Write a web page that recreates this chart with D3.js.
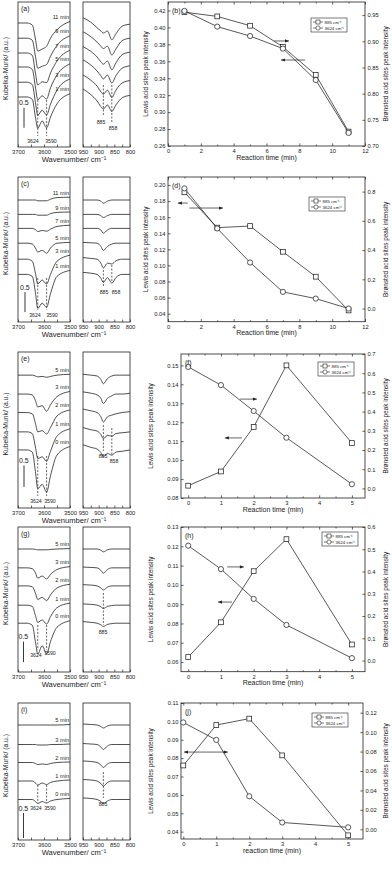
<!DOCTYPE html>
<html>
<head>
<meta charset="utf-8">
<script src="https://cdn.jsdelivr.net/npm/d3@7"></script>
<style>
  body { margin: 0; background: #fff; }
  svg { display: block; }
  text { font-family: "Liberation Sans", Arial, sans-serif; fill: #222; }
</style>
</head>
<body>
<svg id="fig" width="392" height="869"></svg>
<script>
// ---------- spectra: shared wavenumber grids ----------
const ohWn  = [3700, 3665, 3645, 3633, 3624, 3607, 3590, 3575, 3550, 3500];
const lowWn = [950, 925, 905, 893, 885, 872, 858, 845, 825, 800];

// offsets are K-M units above box bottom, curves are relative to offset
const aTimes  = ["11 min", "9 min", "7 min", "5 min", "3 min", "1 min"];
const aOffset = [3.1, 2.72, 2.35, 2.0, 1.62, 1.25];
const aOH = [
  [0, 0, -0.05, -0.4, -0.7, -0.65, -0.58, -0.38, -0.17, 0.04],
  [0, 0, -0.05, -0.45, -0.75, -0.7, -0.66, -0.45, -0.18, 0.06],
  [0, 0, -0.06, -0.5, -0.8, -0.72, -0.74, -0.5, -0.2, 0.07],
  [0, 0, -0.06, -0.5, -0.82, -0.72, -0.8, -0.52, -0.2, 0.08],
  [0, 0, -0.06, -0.5, -0.83, -0.7, -0.82, -0.55, -0.2, 0.08],
  [0, 0, -0.06, -0.5, -0.78, -0.6, -0.77, -0.5, -0.17, 0.08]
];
const aLow = [
  [0.13, 0.02, -0.12, -0.2, -0.25, -0.2, -0.42, -0.27, -0.08, -0.03],
  [0.16, 0.04, -0.1, -0.2, -0.26, -0.2, -0.42, -0.27, -0.06, 0.0],
  [0.16, 0.04, -0.1, -0.22, -0.28, -0.2, -0.42, -0.25, -0.04, 0.02],
  [0.18, 0.05, -0.1, -0.22, -0.3, -0.2, -0.4, -0.22, -0.03, 0.03],
  [0.18, 0.05, -0.1, -0.24, -0.3, -0.2, -0.38, -0.2, -0.02, 0.04],
  [0.2, 0.06, -0.1, -0.24, -0.3, -0.2, -0.36, -0.2, -0.02, 0.04]
];

const cTimes  = ["11 min", "9 min", "7 min", "5 min", "3 min", "1 min"];
const cOffset = [3.05, 2.69, 2.34, 1.97, 1.57, 1.19];
const cOH = [
  [0, 0, 0, 0, -0.02, -0.02, -0.02, 0.02, 0.06, 0.07],
  [0, 0, 0, 0, -0.02, -0.02, -0.02, 0.02, 0.05, 0.06],
  [0, 0, 0, -0.03, -0.08, -0.05, -0.07, -0.02, 0.05, 0.08],
  [0, 0, -0.02, -0.12, -0.22, -0.18, -0.25, -0.12, 0.0, 0.02],
  [0, 0, -0.05, -0.35, -0.62, -0.52, -0.62, -0.38, -0.05, 0.1],
  [0, 0, -0.05, -0.45, -0.85, -0.72, -0.82, -0.48, -0.05, 0.1]
];
const cLow = [
  [0, 0, 0, -0.03, -0.08, -0.03, 0, 0, 0, 0],
  [0, 0, 0, -0.03, -0.08, -0.03, 0, 0, 0, 0],
  [0, 0, 0, -0.04, -0.12, -0.04, 0, 0, 0, 0],
  [0.02, 0.01, 0, -0.08, -0.18, -0.08, -0.02, 0, 0, 0],
  [0.04, 0.02, 0, -0.1, -0.22, -0.1, -0.12, -0.04, 0, 0],
  [0.05, 0.03, 0, -0.1, -0.2, -0.08, -0.22, -0.08, 0, 0]
];

const eTimes  = ["5 min", "3 min", "2 min", "1 min", "0 min"];
const eOffset = [3.09, 2.65, 2.22, 1.77, 1.35];
const eOH = [
  [0, 0, 0, -0.02, -0.04, -0.03, -0.05, -0.03, 0, 0.02],
  [0, 0, -0.02, -0.15, -0.3, -0.27, -0.4, -0.25, -0.06, 0.06],
  [0, 0, -0.03, -0.25, -0.45, -0.42, -0.5, -0.35, -0.08, 0.06],
  [0, 0, -0.04, -0.35, -0.62, -0.58, -0.68, -0.45, -0.1, 0.07],
  [0, 0, -0.05, -0.5, -0.9, -0.8, -0.98, -0.6, -0.12, 0.08]
];
const eLow = [
  [0.02, 0, -0.02, -0.1, -0.2, -0.08, -0.02, 0, 0, 0],
  [0.05, 0.02, -0.02, -0.1, -0.22, -0.1, -0.04, 0, 0, 0.02],
  [0.08, 0.04, 0, -0.1, -0.22, -0.1, -0.06, -0.03, 0, 0.02],
  [0.1, 0.05, 0.02, -0.06, -0.16, -0.08, -0.1, -0.04, -0.02, 0],
  [0.12, 0.06, 0.02, -0.06, -0.16, -0.08, -0.12, -0.05, -0.03, 0]
];

const gTimes  = ["5 min", "3 min", "2 min", "1 min", "0 min"];
const gOffset = [3.0, 2.54, 2.1, 1.63, 1.19];
const gOH = [
  [0, 0, 0, -0.01, -0.02, -0.02, -0.02, -0.01, 0, 0.01],
  [0, 0, -0.02, -0.12, -0.25, -0.2, -0.27, -0.16, -0.04, 0.03],
  [0, 0, -0.02, -0.18, -0.33, -0.28, -0.36, -0.22, -0.05, 0.04],
  [0, 0, -0.03, -0.25, -0.42, -0.36, -0.46, -0.28, -0.06, 0.05],
  [0, 0, -0.05, -0.45, -0.75, -0.55, -0.75, -0.45, -0.1, 0.06]
];
const gLow = [
  [0, 0, 0, -0.03, -0.07, -0.02, 0, 0, 0, 0],
  [0.02, 0.01, 0, -0.06, -0.13, -0.04, 0, 0, 0, 0],
  [0.03, 0.02, 0, -0.05, -0.1, -0.03, 0, 0, 0, 0],
  [0.03, 0.02, 0, -0.04, -0.08, -0.03, -0.01, 0, 0, 0],
  [0.04, 0.02, 0, -0.04, -0.08, -0.03, -0.01, 0, 0, 0]
];

const iTimes  = ["5 min", "3 min", "2 min", "1 min", "0 min"];
const iOffset = [2.3, 1.91, 1.55, 1.18, 0.81];
const iOH = [
  [0, 0, 0, 0, 0, 0, 0, 0, 0, 0.01],
  [0, 0, 0, 0, -0.01, -0.01, -0.01, 0, 0, 0.01],
  [0, 0, 0, -0.02, -0.04, -0.03, -0.04, -0.02, 0, 0.01],
  [0, 0, 0, -0.04, -0.08, -0.04, -0.07, -0.03, 0, 0.02],
  [0, 0, 0, -0.04, -0.08, -0.04, -0.07, -0.03, 0, 0.02]
];
const iLow = [
  [0.02, 0.01, 0, -0.03, -0.06, -0.02, 0, 0, 0, 0],
  [0.02, 0.01, 0, -0.05, -0.1, -0.03, 0, 0, 0, 0],
  [0.03, 0.02, 0, -0.05, -0.1, -0.03, 0, 0, 0, 0],
  [0.03, 0.02, 0, -0.05, -0.1, -0.03, 0, 0, 0, 0],
  [0.03, 0.02, 0, -0.04, -0.08, -0.03, 0, 0, 0, 0]
];

const ohTicks  = [3700, 3650, 3600, 3550, 3500];
const ohLabels = [3700, 3600, 3500];
const lowTicks = [950, 925, 900, 875, 850, 825, 800];
const lowLabels = [950, 900, 850, 800];

// ---------- peak intensity vs reaction time ----------
const legendNames = ["885 cm\u207B\u00B9", "3624 cm\u207B\u00B9"];

const timeB  = [1, 3, 5, 7, 9, 11];
const lewisB = [0.418, 0.413, 0.402, 0.377, 0.344, 0.277];
const bronB  = [0.958, 0.928, 0.910, 0.886, 0.826, 0.725];

const timeD  = [1, 3, 5, 7, 9, 11];
const lewisD = [0.191, 0.147, 0.149, 0.117, 0.086, 0.044];
const bronD  = [0.822, 0.548, 0.315, 0.114, 0.068, 0.0];

const timeF  = [0, 1, 2, 3, 5];
const lewisF = [0.0865, 0.094, 0.1175, 0.150, 0.109];
const bronF  = [0.633, 0.538, 0.403, 0.264, 0.022];

const timeH  = [0, 1, 2, 3, 5];
const lewisH = [0.0626, 0.0806, 0.1071, 0.1237, 0.0691];
const bronH  = [0.516, 0.411, 0.277, 0.160, 0.011];

const timeJ  = [0, 1, 2, 3, 5];
const lewisJ = [0.076, 0.098, 0.1015, 0.0815, 0.038];
const bronJ  = [0.110, 0.092, 0.034, 0.007, 0.002];

const ticksLongX  = [0, 2, 4, 6, 8, 10, 12];
const minorLongX  = [1, 3, 5, 7, 9, 11];
const ticksShortX = [0, 1, 2, 3, 4, 5];
const minorShortX = [0.5, 1.5, 2.5, 3.5, 4.5];

const ticksLB = [0.26, 0.28, 0.30, 0.32, 0.34, 0.36, 0.38, 0.40, 0.42];
const ticksRB = [0.70, 0.75, 0.80, 0.85, 0.90, 0.95];
const ticksLD = [0.04, 0.06, 0.08, 0.10, 0.12, 0.14, 0.16, 0.18, 0.20];
const ticksRD = [0.0, 0.2, 0.4, 0.6, 0.8];
const ticksLF = [0.08, 0.09, 0.10, 0.11, 0.12, 0.13, 0.14, 0.15];
const ticksRF = [0.0, 0.1, 0.2, 0.3, 0.4, 0.5, 0.6, 0.7];
const ticksLH = [0.06, 0.07, 0.08, 0.09, 0.10, 0.11, 0.12, 0.13];
const ticksRH = [0.0, 0.1, 0.2, 0.3, 0.4, 0.5, 0.6];
const ticksLJ = [0.04, 0.05, 0.06, 0.07, 0.08, 0.09, 0.10, 0.11];
const ticksRJ = [0.00, 0.02, 0.04, 0.06, 0.08, 0.10, 0.12];

// ---------- drawing ----------
const ink = "#222";
const svg = d3.select("#fig");

function styleAxis(sel, fs) {
  sel.attr("font-family", null).attr("font-size", null);
  sel.select(".domain").remove();
  sel.selectAll("line").attr("stroke", ink).attr("stroke-width", 0.7);
  sel.selectAll("text").attr("fill", ink).style("font-size", fs + "px");
}

function frame(g, x0, y0, x1, y1) {
  g.append("rect")
    .attr("x", x0).attr("y", y0)
    .attr("width", x1 - x0).attr("height", y1 - y0)
    .attr("fill", "none").attr("stroke", ink).attr("stroke-width", 0.8);
}

function spectra(L, times, offsets, oh, low) {
  const g = svg.append("g");
  const xo = d3.scaleLinear().domain([3700, 3500]).range([18, 70]);
  const xl = d3.scaleLinear().domain([950, 800]).range([83, 130]);
  const y = d3.scaleLinear().domain([0, (L.bottom - L.top) / L.unit]).range([L.bottom, L.top]);

  frame(g, 18, L.top, 70, L.bottom);
  frame(g, 83, L.top, 130, L.bottom);

  g.append("g").attr("transform", `translate(0,${L.bottom})`)
    .call(d3.axisBottom(xo).tickValues(ohTicks).tickSize(-2.5).tickPadding(2.5)
      .tickFormat(d => ohLabels.includes(d) ? d : ""))
    .call(s => styleAxis(s, 5.8));
  g.append("g").attr("transform", `translate(0,${L.bottom})`)
    .call(d3.axisBottom(xl).tickValues(lowTicks).tickSize(-2.5).tickPadding(2.5)
      .tickFormat(d => lowLabels.includes(d) ? d : ""))
    .call(s => styleAxis(s, 5.8));

  const lineOH = off => d3.line()
    .x((d, i) => xo(ohWn[i])).y(d => y(off + d)).curve(d3.curveMonotoneX);
  const lineLow = off => d3.line()
    .x((d, i) => xl(lowWn[i])).y(d => y(off + d)).curve(d3.curveMonotoneX);

  times.forEach((t, k) => {
    g.append("path").attr("d", lineOH(offsets[k])(oh[k]))
      .attr("fill", "none").attr("stroke", ink).attr("stroke-width", 0.8);
    g.append("path").attr("d", lineLow(offsets[k])(low[k]))
      .attr("fill", "none").attr("stroke", ink).attr("stroke-width", 0.8);
    g.append("text")
      .attr("x", 69).attr("y", y(offsets[k] + oh[k][oh[k].length - 1]) - 2.5)
      .attr("text-anchor", "end").style("font-size", "5.6px").text(t);
  });

  // peak guides
  L.ohPeaks.forEach(p => {
    g.append("line").attr("x1", xo(p.wn)).attr("x2", xo(p.wn))
      .attr("y1", p.y1).attr("y2", p.y2)
      .attr("stroke", ink).attr("stroke-width", 0.7).attr("stroke-dasharray", "2,1.5");
    g.append("text").attr("x", p.lx).attr("y", p.ly).attr("text-anchor", "middle")
      .style("font-size", "5.2px").text(p.wn);
  });
  L.lowPeaks.forEach(p => {
    g.append("line").attr("x1", xl(p.wn)).attr("x2", xl(p.wn))
      .attr("y1", p.y1).attr("y2", p.y2)
      .attr("stroke", ink).attr("stroke-width", 0.7).attr("stroke-dasharray", "2,1.5");
    g.append("text").attr("x", p.lx).attr("y", p.ly).attr("text-anchor", "middle")
      .style("font-size", "5.2px").text(p.wn);
  });

  // scale bar
  g.append("line").attr("x1", L.barX).attr("x2", L.barX)
    .attr("y1", y(L.barBase)).attr("y2", y(L.barBase + 0.5))
    .attr("stroke", ink).attr("stroke-width", 0.9);
  g.append("text").attr("x", L.barX - 5).attr("y", y(L.barBase + 0.5) - 2.5)
    .style("font-size", "7px").text("0.5");

  g.append("text").attr("x", 21).attr("y", L.top + 9).style("font-size", "7px").text(L.label);
  g.append("text")
    .attr("transform", `translate(8,${(L.top + L.bottom) / 2 - 6}) rotate(-90)`)
    .attr("text-anchor", "middle").style("font-size", "6.8px").text("Kubelka-Munk/ (a.u.)");
  g.append("text").attr("x", 74).attr("y", L.bottom + 14.5).attr("text-anchor", "middle")
    .style("font-size", "7.6px").text("Wavenumber/ cm\u207B\u00B9");
}

function marker(g, kind, cx, cy) {
  if (kind === "sq") {
    g.append("rect").attr("x", cx - 2.4).attr("y", cy - 2.4).attr("width", 4.8).attr("height", 4.8)
      .attr("fill", "#fff").attr("stroke", ink).attr("stroke-width", 0.75);
  } else {
    g.append("circle").attr("cx", cx).attr("cy", cy).attr("r", 2.6)
      .attr("fill", "#fff").attr("stroke", ink).attr("stroke-width", 0.75);
  }
}

function kinetic(K, times, lewis, bron) {
  const g = svg.append("g");
  const x = d3.scaleLinear().domain(K.xDomain).range([K.x0, K.x1]);
  const yl = d3.scaleLinear().domain(K.lDomain).range([K.bottom, K.top]);
  const yr = d3.scaleLinear().domain(K.rDomain).range([K.bottom, K.top]);
  const fs = 5.8;

  frame(g, K.x0, K.top, K.x1, K.bottom);

  g.append("g").attr("transform", `translate(0,${K.bottom})`)
    .call(d3.axisBottom(x).tickValues(K.xTicks).tickSize(-2.6).tickPadding(3).tickFormat(d3.format("d")))
    .call(s => styleAxis(s, fs));
  g.append("g").attr("transform", `translate(0,${K.bottom})`)
    .call(d3.axisBottom(x).tickValues(K.xMinor).tickSize(-1.5).tickFormat(""))
    .call(s => styleAxis(s, fs));
  g.append("g").attr("transform", `translate(0,${K.top})`)
    .call(d3.axisTop(x).tickValues(K.xTicks).tickSize(-2.6).tickFormat(""))
    .call(s => styleAxis(s, fs));
  g.append("g").attr("transform", `translate(0,${K.top})`)
    .call(d3.axisTop(x).tickValues(K.xMinor).tickSize(-1.5).tickFormat(""))
    .call(s => styleAxis(s, fs));
  g.append("g").attr("transform", `translate(${K.x0},0)`)
    .call(d3.axisLeft(yl).tickValues(K.lTicks).tickSize(-2.6).tickPadding(2.5).tickFormat(d3.format(".2f")))
    .call(s => styleAxis(s, fs));
  g.append("g").attr("transform", `translate(${K.x1},0)`)
    .call(d3.axisRight(yr).tickValues(K.rTicks).tickSize(-2.6).tickPadding(2.5).tickFormat(d3.format(K.rFmt)))
    .call(s => styleAxis(s, fs));

  const lineL = d3.line().x((d, i) => x(times[i])).y(d => yl(d));
  const lineR = d3.line().x((d, i) => x(times[i])).y(d => yr(d));
  g.append("path").attr("d", lineL(lewis)).attr("fill", "none").attr("stroke", ink).attr("stroke-width", 0.75);
  g.append("path").attr("d", lineR(bron)).attr("fill", "none").attr("stroke", ink).attr("stroke-width", 0.75);
  lewis.forEach((v, i) => marker(g, "sq", x(times[i]), yl(v)));
  bron.forEach((v, i) => marker(g, "ci", x(times[i]), yr(v)));

  // arrows (in data units of the left axis)
  K.arrows.forEach(a => {
    g.append("line")
      .attr("x1", x(a.from)).attr("x2", x(a.to)).attr("y1", yl(a.y)).attr("y2", yl(a.y))
      .attr("stroke", ink).attr("stroke-width", 0.7);
    const dir = a.to > a.from ? 1 : -1;
    const tx = x(a.to), ty = yl(a.y);
    g.append("path")
      .attr("d", `M${tx},${ty} L${tx - dir * 4},${ty - 1.6} L${tx - dir * 4},${ty + 1.6} Z`)
      .attr("fill", ink);
  });

  // legend
  const lg = g.append("g");
  lg.append("rect").attr("x", K.lgX).attr("y", K.lgY).attr("width", 36).attr("height", 14)
    .attr("fill", "#fff").attr("stroke", ink).attr("stroke-width", 0.6);
  legendNames.forEach((n, i) => {
    const yy = K.lgY + 4 + i * 6;
    lg.append("line").attr("x1", K.lgX + 2).attr("x2", K.lgX + 12).attr("y1", yy).attr("y2", yy)
      .attr("stroke", ink).attr("stroke-width", 0.6);
    if (i === 0) {
      lg.append("rect").attr("x", K.lgX + 5).attr("y", yy - 2).attr("width", 4).attr("height", 4)
        .attr("fill", "#fff").attr("stroke", ink).attr("stroke-width", 0.6);
    } else {
      lg.append("circle").attr("cx", K.lgX + 7).attr("cy", yy).attr("r", 2.1)
        .attr("fill", "#fff").attr("stroke", ink).attr("stroke-width", 0.6);
    }
    lg.append("text").attr("x", K.lgX + 13.5).attr("y", yy + 1.6).style("font-size", "4.4px").text(n);
  });

  g.append("text").attr("x", K.x0 + 4).attr("y", K.top + 11).style("font-size", "7px").text(K.label);
  g.append("text").attr("x", (K.x0 + K.x1) / 2).attr("y", K.bottom + 13.5).attr("text-anchor", "middle")
    .style("font-size", "7px").text(K.xTitle);
  g.append("text")
    .attr("transform", `translate(${K.lTitleX},${(K.top + K.bottom) / 2}) rotate(-90)`)
    .attr("text-anchor", "middle").style("font-size", "6.4px").text("Lewis acid sites peak intensity");
  g.append("text")
    .attr("transform", `translate(388,${(K.top + K.bottom) / 2}) rotate(-90)`)
    .attr("text-anchor", "middle").style("font-size", "6.4px").text("Br\u00F8nsted acid sites peak intensity");
}

// ---------- layout ----------
spectra({label: "(a)", top: 2, bottom: 147, unit: 40, barX: 24, barBase: 0.48,
  ohPeaks: [{wn: 3624, y1: 100, y2: 136, lx: 33, ly: 143}, {wn: 3590, y1: 100, y2: 136, lx: 51, ly: 143}],
  lowPeaks: [{wn: 885, y1: 85, y2: 116, lx: 101, ly: 124}, {wn: 858, y1: 85, y2: 122, lx: 113, ly: 130}]
}, aTimes, aOffset, aOH, aLow);

spectra({label: "(c)", top: 177, bottom: 322, unit: 40, barX: 25, barBase: 0.25,
  ohPeaks: [{wn: 3624, y1: 278, y2: 310, lx: 35, ly: 317}, {wn: 3590, y1: 278, y2: 310, lx: 52, ly: 317}],
  lowPeaks: [{wn: 885, y1: 270, y2: 287, lx: 104, ly: 294}, {wn: 858, y1: 265, y2: 282, lx: 116, ly: 294}]
}, cTimes, cOffset, cOH, cLow);

spectra({label: "(e)", top: 352, bottom: 508, unit: 43, barX: 24, barBase: 0.49,
  ohPeaks: [{wn: 3624, y1: 456, y2: 496, lx: 36, ly: 503}, {wn: 3590, y1: 456, y2: 496, lx: 50, ly: 503}],
  lowPeaks: [{wn: 885, y1: 425, y2: 451, lx: 103, ly: 458}, {wn: 858, y1: 428, y2: 456, lx: 114, ly: 463}]
}, eTimes, eOffset, eOH, eLow);

spectra({label: "(g)", top: 527, bottom: 672, unit: 41, barX: 23.5, barBase: 0.24,
  ohPeaks: [{wn: 3624, y1: 625, y2: 650, lx: 36, ly: 657}, {wn: 3590, y1: 625, y2: 650, lx: 50, ly: 655}],
  lowPeaks: [{wn: 885, y1: 593, y2: 625, lx: 103, ly: 634}]
}, gTimes, gOffset, gOH, gLow);

spectra({label: "(i)", top: 703, bottom: 840, unit: 50, barX: 23.5, barBase: 0.04,
  ohPeaks: [{wn: 3624, y1: 785, y2: 803, lx: 36, ly: 810}, {wn: 3590, y1: 785, y2: 803, lx: 50, ly: 810}],
  lowPeaks: [{wn: 885, y1: 772, y2: 798, lx: 103, ly: 806}]
}, iTimes, iOffset, iOH, iLow);

kinetic({label: "(b)", x0: 168, x1: 365, top: 2, bottom: 146, xDomain: [0, 12],
  xTicks: ticksLongX, xMinor: minorLongX, lDomain: [0.26, 0.43], lTicks: ticksLB,
  rDomain: [0.70, 0.975], rTicks: ticksRB, rFmt: ".2f", lTitleX: 148,
  xTitle: "Reaction time (min)", lgX: 311, lgY: 18,
  arrows: [{from: 6.46, to: 7.37, y: 0.384}, {from: 8.35, to: 6.88, y: 0.3615}]
}, timeB, lewisB, bronB);

kinetic({label: "(d)", x0: 168, x1: 365, top: 177, bottom: 321.7, xDomain: [0, 12],
  xTicks: ticksLongX, xMinor: minorLongX, lDomain: [0.03, 0.21], lTicks: ticksLD,
  rDomain: [-0.09, 0.9], rTicks: ticksRD, rFmt: ".1f", lTitleX: 148,
  xTitle: "Reaction time (min)", lgX: 309, lgY: 197,
  arrows: [{from: 1.2, to: 0.6, y: 0.1776}, {from: 1.3, to: 3.35, y: 0.1714}]
}, timeD, lewisD, bronD);

kinetic({label: "(f)", x0: 181, x1: 365, top: 354, bottom: 498, xDomain: [-0.22, 5.4],
  xTicks: ticksShortX, xMinor: minorShortX, lDomain: [0.08, 0.156], lTicks: ticksLF,
  rDomain: [-0.05, 0.7], rTicks: ticksRF, rFmt: ".1f", lTitleX: 153,
  xTitle: "Reaction time (min)", lgX: 318, lgY: 362,
  arrows: [{from: 1.58, to: 2.10, y: 0.1322}, {from: 1.64, to: 1.12, y: 0.1117}]
}, timeF, lewisF, bronF);

kinetic({label: "(h)", x0: 181, x1: 365, top: 527, bottom: 671.7, xDomain: [-0.22, 5.4],
  xTicks: ticksShortX, xMinor: minorShortX, lDomain: [0.055, 0.13], lTicks: ticksLH,
  rDomain: [-0.05, 0.6], rTicks: ticksRH, rFmt: ".1f", lTitleX: 153,
  xTitle: "Reaction time (min)", lgX: 322, lgY: 532,
  arrows: [{from: 1.19, to: 1.70, y: 0.1093}, {from: 1.34, to: 0.91, y: 0.0911}]
}, timeH, lewisH, bronH);

kinetic({label: "(j)", x0: 181, x1: 363, top: 703, bottom: 839, xDomain: [-0.07, 5.45],
  xTicks: ticksShortX, xMinor: minorShortX, lDomain: [0.036, 0.11], lTicks: ticksLJ,
  rDomain: [-0.01, 0.13], rTicks: ticksRJ, rFmt: ".2f", lTitleX: 153,
  xTitle: "reaction time (min)", lgX: 312, lgY: 713,
  arrows: [{from: 0.51, to: 0.02, y: 0.0833}, {from: 0.51, to: 1.35, y: 0.0833}]
}, timeJ, lewisJ, bronJ);
</script>
</body>
</html>
